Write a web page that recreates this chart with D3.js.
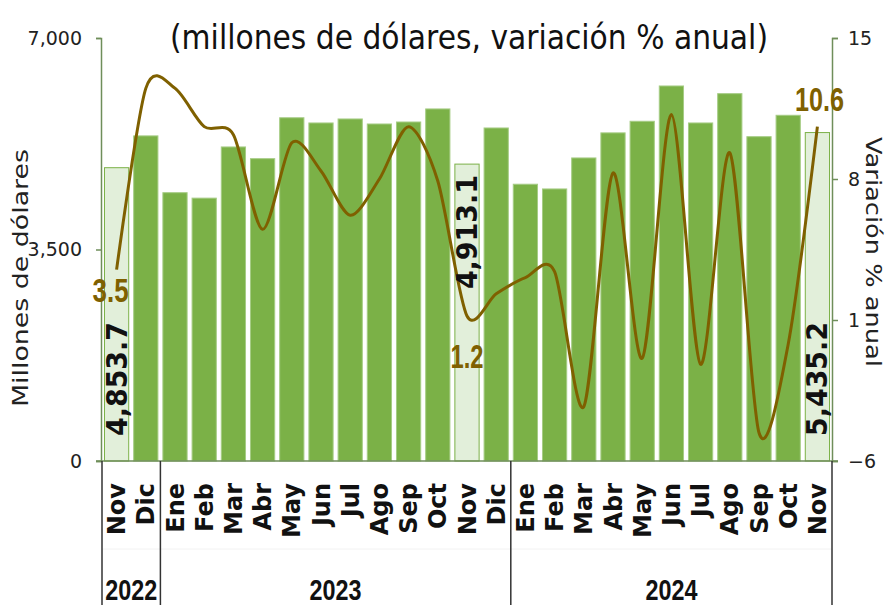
<!DOCTYPE html>
<html>
<head>
<meta charset="utf-8">
<script src="https://cdn.jsdelivr.net/npm/d3@7"></script>
<style>
  html, body { margin: 0; padding: 0; background: #ffffff; }
  svg { display: block; }
</style>
</head>
<body>
<svg id="chart" width="888" height="605"></svg>
<script>
// ---- data ----
const months = ["Nov","Dic","Ene","Feb","Mar","Abr","May","Jun","Jul","Ago","Sep","Oct","Nov","Dic","Ene","Feb","Mar","Abr","May","Jun","Jul","Ago","Sep","Oct","Nov"];
const exportsMUSD = [4853.7,5380,4440,4350,5197,5003,5680,5594,5660,5577,5610,5826,4913.1,5511,4580,4502,5015,5430,5622,6206,5594,6079,5367,5721,5435.2];
const growthPct = [3.5,12.5,12.5,10.6,10.2,5.5,9.8,8.4,6.2,8.0,10.6,7.9,1.2,2.3,3.1,3.4,-3.3,8.3,-0.9,11.2,-1.2,9.3,-4.6,-0.2,10.6];
const years = ["2022","2023","2024"];
const yearCounts = [2,12,11];
const leftTicks = [0,3500,7000];
const rightTicks = [-6,1,8,15];
const highlighted = [0,12,24];
const growthLabels = [0,12,24];

(function () {
const svg = d3.select("#chart");
const pLeft = 101, pRight = 832, pTop = 38, pBottom = 461;
const idx = d3.range(months.length);

const x = d3.scaleBand().domain(idx).range([pLeft + 1, pRight]).paddingInner(0.17).paddingOuter(0.085);
const yL = d3.scaleLinear().domain([0,7000]).range([pBottom, pTop]);
const yR = d3.scaleLinear().domain([-6,15]).range([pBottom, pTop]);

const GREEN = "#7BB147", LIGHT = "#E2EFDA", BROWN = "#7F6000", AXIS = "#6F8E5A";
const bodyFont = "'DejaVu Sans', 'Century Gothic', sans-serif";

// title
svg.append("text").attr("x", 469).attr("y", 49).attr("text-anchor","middle")
  .attr("font-family", bodyFont).attr("font-size", 34).attr("fill","#111")
  .attr("textLength", 598).attr("lengthAdjust","spacingAndGlyphs")
  .text("(millones de dólares, variación % anual)");

// bars
svg.append("g").selectAll("rect").data(idx).join("rect")
  .attr("x", i => x(i)).attr("width", x.bandwidth())
  .attr("y", i => yL(exportsMUSD[i])).attr("height", i => yL(0) - yL(exportsMUSD[i]))
  .attr("fill", i => highlighted.includes(i) ? LIGHT : GREEN)
  .attr("stroke", i => highlighted.includes(i) ? "#7BB147" : "#A6CC85")
  .attr("stroke-width", 1);

// left axis
const gL = svg.append("g").attr("transform", `translate(${pLeft},0)`)
  .call(d3.axisLeft(yL).tickValues(leftTicks).tickSize(5).tickPadding(14).tickFormat(d3.format(",")));
gL.select(".domain").attr("stroke", AXIS).attr("stroke-width", 1.5);
gL.selectAll(".tick line").attr("stroke", AXIS).attr("stroke-width", 1.5);
gL.selectAll(".tick text").attr("font-family", bodyFont).attr("font-size", 19).attr("fill","#222");

// right axis
const gR = svg.append("g").attr("transform", `translate(${pRight},0)`)
  .call(d3.axisRight(yR).tickValues(rightTicks).tickSize(6).tickPadding(10));
gR.select(".domain").attr("stroke", AXIS).attr("stroke-width", 1.5);
gR.selectAll(".tick line").attr("stroke", AXIS).attr("stroke-width", 1.5);
gR.selectAll(".tick text").attr("font-family", bodyFont).attr("font-size", 19).attr("fill","#222");

// x baseline
svg.append("line").attr("x1", pLeft - 5).attr("x2", pRight + 6).attr("y1", pBottom).attr("y2", pBottom)
  .attr("stroke", AXIS).attr("stroke-width", 1.5);

// axis titles
svg.append("text").attr("transform", `translate(28,278) rotate(-90)`).attr("text-anchor","middle")
  .attr("font-family", bodyFont).attr("font-size", 22).attr("fill","#222")
  .attr("textLength", 258).attr("lengthAdjust","spacingAndGlyphs").text("Millones de dólares");
svg.append("text").attr("transform", `translate(866,252) rotate(90)`).attr("text-anchor","middle")
  .attr("font-family", bodyFont).attr("font-size", 22).attr("fill","#222")
  .attr("textLength", 230).attr("lengthAdjust","spacingAndGlyphs").text("Variación % anual");

// line
const line = d3.line().x(i => x(i) + x.bandwidth()/2).y(i => yR(growthPct[i])).curve(d3.curveCardinal.tension(0.15));
svg.append("path").datum(idx).attr("d", line).attr("fill","none").attr("stroke", BROWN).attr("stroke-width", 3);

// bar value labels
const fmt = d3.format(",.1f");
highlighted.forEach(i => {
  const cx = x(i) + x.bandwidth()/2;
  const atTop = (i === 12);
  const yy = atTop ? yL(exportsMUSD[i]) + 11 : yL(0) - 25;
  svg.append("text").attr("transform", `translate(${cx},${yy}) rotate(-90)`)
    .attr("dy","0.36em").attr("text-anchor", atTop ? "end" : "start")
    .attr("font-family","'DejaVu Sans', sans-serif").attr("font-weight","bold").attr("font-size", 28)
    .attr("fill","#111").attr("textLength", 114).attr("lengthAdjust","spacingAndGlyphs")
    .text(fmt(exportsMUSD[i]));
});

// growth labels
const glPos = {0: {dx: -6, y: 302, w: 36}, 12: {dx: 0, y: 368, w: 33}, 24: {dx: 2, y: 111, w: 49}};
growthLabels.forEach(i => {
  const p = glPos[i];
  svg.append("text").attr("x", x(i) + x.bandwidth()/2 + p.dx).attr("y", p.y).attr("text-anchor","middle")
    .attr("font-family","'Liberation Sans Narrow','Liberation Sans', sans-serif").attr("font-weight","bold")
    .attr("font-size", 34).attr("fill", BROWN).attr("textLength", p.w).attr("lengthAdjust","spacingAndGlyphs")
    .text(growthPct[i].toFixed(1));
});

// month labels
svg.append("g").selectAll("text").data(idx).join("text")
  .attr("transform", i => `translate(${x(i) + x.bandwidth()/2},483) rotate(-90)`)
  .attr("dy","0.36em").attr("text-anchor","end")
  .attr("font-family","'DejaVu Sans', sans-serif").attr("font-weight","bold").attr("font-size", 24)
  .attr("fill","#111").text(i => months[i]);

// year groups
let start = 0;
const sepX = [pLeft + 1];
years.forEach((yname, k) => {
  const end = start + yearCounts[k];
  const x0 = start === 0 ? pLeft + 1 : x(start) - x.step()*x.paddingInner()/2;
  const x1 = end === months.length ? pRight : x(end) - x.step()*x.paddingInner()/2;
  sepX.push(x1);
  svg.append("text").attr("x", (x0 + x1)/2).attr("y", 600).attr("text-anchor","middle")
    .attr("font-family","'Liberation Sans Narrow','Liberation Sans', sans-serif").attr("font-weight","bold")
    .attr("font-size", 29).attr("fill","#111").attr("textLength", 52).attr("lengthAdjust","spacingAndGlyphs")
    .text(yname);
  start = end;
});
svg.append("line").attr("x1", pLeft + 1).attr("x2", pRight).attr("y1", 549).attr("y2", 549)
  .attr("stroke","#f2f2f2").attr("stroke-width",1);
sepX.forEach(sx => {
  svg.append("line").attr("x1", sx).attr("x2", sx).attr("y1", pBottom).attr("y2", 605)
    .attr("stroke","#333").attr("stroke-width",1.5);
});
})();
</script>
</body>
</html>
